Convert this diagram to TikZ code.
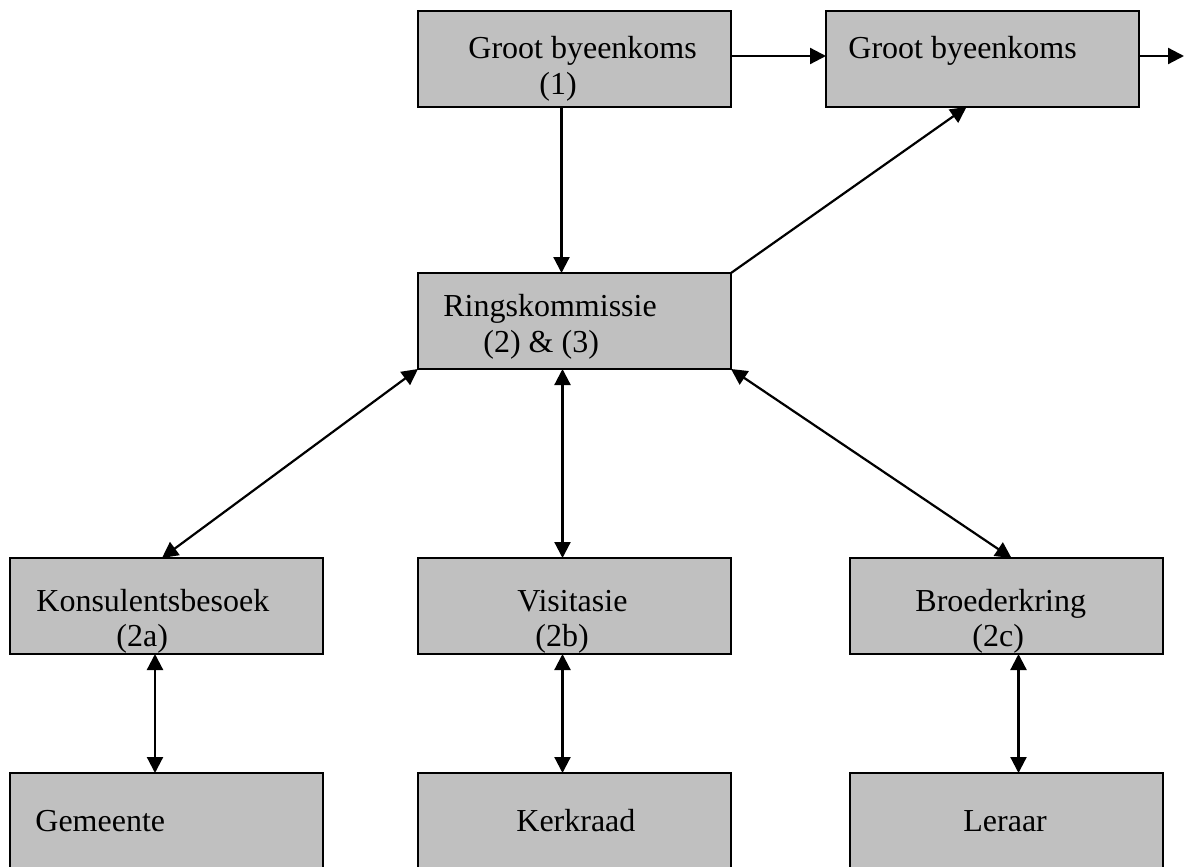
\documentclass[tikz,border=0pt]{standalone}
\usepackage{fontspec}
\setmainfont{Liberation Serif}
\usepackage{xcolor}
\usepackage{tikz}
\usetikzlibrary{positioning, calc, arrows.meta}
\definecolor{boxgrey}{RGB}{192,192,192}

\begin{document}
\begin{tikzpicture}[x=0.5pt, y=-0.5pt]
		\tikzstyle{orgbox}=[draw=black, line width=1.3pt, fill=boxgrey, minimum width=156.5pt, minimum height=48pt, inner sep=0pt, outer sep=0pt]
		\tikzstyle{lbl}=[anchor=base west, inner sep=0pt, font=\fontsize{16}{19}\selectfont]
		\tikzstyle{con}=[line width=1.1pt, -{Triangle[length=8pt, width=8pt]}]
		\tikzstyle{dcon}=[line width=1.1pt, {Triangle[length=8pt, width=8pt]}-{Triangle[length=8pt, width=8pt]}]
		
		\path[use as bounding box, clip] (0,0) rectangle (1184,867);
		
		\node [orgbox, anchor=north west](G1) at (418,11) {};
		\node [orgbox, right=47.5pt of G1](G2) {};
		\node [orgbox, below=83pt of G1](R) {};
		
		\node [orgbox, below=94.5pt of R](V) {};
		\node [orgbox, left=47.5pt of V](K) {};
		\node [orgbox, right=59.5pt of V](B) {};
		
		%% bottom row runs off the page
		\node [orgbox, minimum height=60pt, below=59.5pt of K](Gm) {};
		\node [orgbox, minimum height=60pt, below=59.5pt of V](Kr) {};
		\node [orgbox, minimum height=60pt, below=59.5pt of B](Lr) {};
		
		\node [lbl](g1a) at (468,58) {Groot byeenkoms};
		\node [lbl](g1b) at (539,94) {(1)};
		\node [lbl](g2a) at (848,58) {Groot byeenkoms};
		\node [lbl](ra) at (443,316) {Ringskommissie};
		\node [lbl](rb) at (483,352) {(2) \& (3)};
		\node [lbl](ka) at (36,611) {Konsulentsbesoek};
		\node [lbl](kb) at (116,646) {(2a)};
		\node [lbl](va) at (517,611) {Visitasie};
		\node [lbl](vb) at (535,646) {(2b)};
		\node [lbl](ba) at (915,611) {Broederkring};
		\node [lbl](bb) at (972,646) {(2c)};
		\node [lbl](gma) at (35,831) {Gemeente};
		\node [lbl](kra) at (516,831) {Kerkraad};
		\node [lbl](lra) at (963,831) {Leraar};
		
		\coordinate (out) at (1184,56);
		
		\draw [con] ([yshift=1.5pt]G1.east)--([yshift=1.5pt]G2.west);
		\draw [con] ([yshift=1.5pt]G2.east)--(out);
		\draw [con] ([xshift=-6.5pt]G1.south)--([xshift=-6.5pt]R.north);
		\draw [con] (R.north east)--([xshift=-8pt]G2.south);
		\draw [dcon] (R.south west)--([xshift=-2.25pt]K.north);
		\draw [dcon] ([xshift=-6pt]R.south)--([xshift=-6pt]V.north);
		\draw [dcon] (R.south east)--([xshift=2.5pt]B.north);
		\draw [dcon] ([xshift=-5.75pt]K.south)--([xshift=-5.75pt]Gm.north);
		\draw [dcon] ([xshift=-6pt]V.south)--([xshift=-6pt]Kr.north);
		\draw [dcon] ([xshift=6pt]B.south)--([xshift=6pt]Lr.north);
\end{tikzpicture}
\end{document}
